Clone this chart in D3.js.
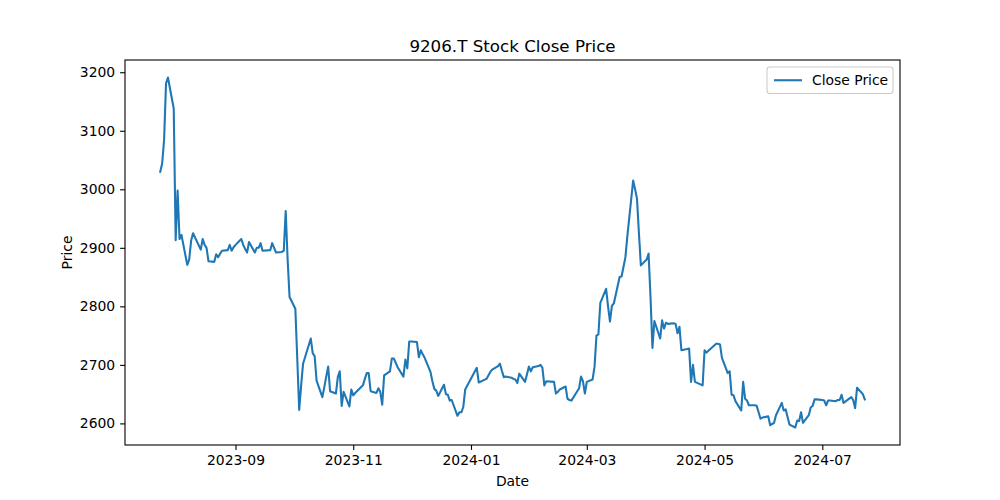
<!DOCTYPE html>
<html>
<head>
<meta charset="utf-8">
<script src="https://cdn.jsdelivr.net/npm/d3@7"></script>
<style>
  html, body { margin: 0; padding: 0; background: #fff; }
  svg { display: block; }
  text { font-family: "DejaVu Sans", sans-serif; fill: #000; }
</style>
</head>
<body>
<svg id="chart" width="1000" height="500"></svg>
<script>
// ---- data ----
const dates = [
"2023-07-24","2023-07-25","2023-07-26","2023-07-27","2023-07-28","2023-07-31",
"2023-08-01","2023-08-02","2023-08-03","2023-08-04","2023-08-07","2023-08-08","2023-08-09","2023-08-10",
"2023-08-14","2023-08-15","2023-08-16","2023-08-17","2023-08-18","2023-08-21","2023-08-22","2023-08-23",
"2023-08-24","2023-08-25","2023-08-28","2023-08-29","2023-08-30","2023-08-31",
"2023-09-01","2023-09-04","2023-09-05","2023-09-06","2023-09-07","2023-09-08","2023-09-11","2023-09-12",
"2023-09-13","2023-09-14","2023-09-15","2023-09-19","2023-09-20","2023-09-21","2023-09-22","2023-09-25",
"2023-09-26","2023-09-27","2023-09-28","2023-09-29",
"2023-10-02","2023-10-03","2023-10-04","2023-10-05","2023-10-06","2023-10-10","2023-10-11","2023-10-12",
"2023-10-13","2023-10-16","2023-10-17","2023-10-18","2023-10-19","2023-10-20","2023-10-23","2023-10-24",
"2023-10-25","2023-10-26","2023-10-27","2023-10-30","2023-10-31",
"2023-11-01","2023-11-02","2023-11-06","2023-11-07","2023-11-08","2023-11-09","2023-11-10","2023-11-13",
"2023-11-14","2023-11-15","2023-11-16","2023-11-17","2023-11-20","2023-11-21","2023-11-22","2023-11-24",
"2023-11-27","2023-11-28","2023-11-29","2023-11-30",
"2023-12-01","2023-12-04","2023-12-05","2023-12-06","2023-12-07","2023-12-08","2023-12-11","2023-12-12",
"2023-12-13","2023-12-14","2023-12-15","2023-12-18","2023-12-19","2023-12-20","2023-12-21","2023-12-22",
"2023-12-25","2023-12-26","2023-12-27","2023-12-28","2023-12-29",
"2024-01-04","2024-01-05","2024-01-09","2024-01-10","2024-01-11","2024-01-12","2024-01-15","2024-01-16",
"2024-01-17","2024-01-18","2024-01-19","2024-01-22","2024-01-23","2024-01-24","2024-01-25","2024-01-26",
"2024-01-29","2024-01-30","2024-01-31",
"2024-02-01","2024-02-02","2024-02-05","2024-02-06","2024-02-07","2024-02-08","2024-02-09","2024-02-13",
"2024-02-14","2024-02-15","2024-02-16","2024-02-19","2024-02-20","2024-02-21","2024-02-22","2024-02-26",
"2024-02-27","2024-02-28","2024-02-29",
"2024-03-01","2024-03-04","2024-03-05","2024-03-06","2024-03-07","2024-03-08","2024-03-11","2024-03-12",
"2024-03-13","2024-03-14","2024-03-15","2024-03-18","2024-03-19","2024-03-21","2024-03-22","2024-03-25",
"2024-03-26","2024-03-27","2024-03-28","2024-03-29",
"2024-04-01","2024-04-02","2024-04-03","2024-04-04","2024-04-05","2024-04-08","2024-04-09","2024-04-10",
"2024-04-11","2024-04-12","2024-04-15","2024-04-16","2024-04-17","2024-04-18","2024-04-19","2024-04-22",
"2024-04-23","2024-04-24","2024-04-25","2024-04-26","2024-04-30",
"2024-05-01","2024-05-02","2024-05-07","2024-05-08","2024-05-09","2024-05-10","2024-05-13","2024-05-14",
"2024-05-15","2024-05-16","2024-05-17","2024-05-20","2024-05-21","2024-05-22","2024-05-23","2024-05-24",
"2024-05-27","2024-05-28","2024-05-29","2024-05-30","2024-05-31",
"2024-06-03","2024-06-04","2024-06-05","2024-06-06","2024-06-07","2024-06-10","2024-06-11","2024-06-12",
"2024-06-13","2024-06-14","2024-06-17","2024-06-18","2024-06-19","2024-06-20","2024-06-21","2024-06-24",
"2024-06-25","2024-06-26","2024-06-27","2024-06-28",
"2024-07-01","2024-07-02","2024-07-03","2024-07-04","2024-07-05","2024-07-08","2024-07-09","2024-07-10",
"2024-07-11","2024-07-12","2024-07-16","2024-07-17","2024-07-18","2024-07-19","2024-07-22","2024-07-23"
];
const closePrice = [
3030,3044,3084,3181,3191,3138,
2913,2998,2915,2922,2871,2880,2912,2925,
2897,2915,2905,2900,2877,2876,2889,2884,
2890,2895,2896,2905,2895,2901,
2905,2915,2905,2898,2892,2910,2892,2900,
2900,2908,2895,2896,2908,2900,2892,2893,
2895,2963,2880,2816,
2796,2710,2623,2665,2702,2745,2720,2715,
2673,2645,2662,2680,2697,2655,2651,2679,
2689,2630,2654,2629,2658,
2648,2652,2665,2676,2686,2686,2655,2652,
2660,2654,2632,2682,2689,2711,2711,2696,
2680,2709,2694,2740,
2740,2739,2713,2725,2718,2712,2688,2672,
2659,2656,2647,2666,2650,2649,2639,2640,
2613,2619,2619,2628,2658,
2695,2670,2676,2682,2688,2692,2698,2702,
2690,2679,2680,2678,2676,2675,2669,2685,
2671,2684,2697,
2689,2696,2698,2700,2695,2665,2672,2671,
2651,2654,2658,2663,2642,2640,2639,2660,
2680,2672,2651,
2671,2675,2697,2750,2752,2806,2830,2800,
2774,2801,2805,2850,2851,2884,2920,3015,
3000,2984,2925,2870,
2880,2890,2816,2729,2775,2745,2776,2762,
2772,2770,2771,2770,2754,2765,2725,2727,
2728,2671,2700,2671,2665,
2725,2721,2736,2736,2735,2712,2686,2689,
2649,2648,2638,2622,2671,2642,2639,2631,
2631,2630,2619,2608,2610,
2612,2597,2599,2601,2614,2635,2622,2624,
2611,2598,2593,2605,2604,2619,2601,2614,
2627,2630,2641,2641,
2640,2639,2631,2639,2639,2638,2640,2640,
2649,2635,2645,2640,2626,2661,2650,2641
];
const xTickLabels = ["2023-09","2023-11","2024-01","2024-03","2024-05","2024-07"];
const yTickValues = [2600, 2700, 2800, 2900, 3000, 3100, 3200];
const chartTitle = "9206.T Stock Close Price";
const seriesName = "Close Price";

// ---- layout ----
const W = 1000, H = 500;
const m = { left: 125, right: 900, top: 60, bottom: 445 };
const color = "#1f77b4";

const parse = d3.timeParse("%Y-%m-%d");
const parseMonth = d3.timeParse("%Y-%m");
const data = dates.map((d, i) => ({ date: parse(d), value: closePrice[i] }));

const xExt = d3.extent(data, d => d.date);
const xSpan = xExt[1] - xExt[0];
const x = d3.scaleTime()
  .domain([new Date(+xExt[0] - xSpan * 0.05), new Date(+xExt[1] + xSpan * 0.05)])
  .range([m.left, m.right]);

const yExt = d3.extent(data, d => d.value);
const ySpan = yExt[1] - yExt[0];
const y = d3.scaleLinear()
  .domain([yExt[0] - ySpan * 0.05, yExt[1] + ySpan * 0.05])
  .range([m.bottom, m.top]);

const svg = d3.select("#chart");

// clip
svg.append("defs").append("clipPath").attr("id", "clip")
  .append("rect").attr("x", m.left).attr("y", m.top)
  .attr("width", m.right - m.left).attr("height", m.bottom - m.top);

// line
const line = d3.line().x(d => x(d.date)).y(d => y(d.value));
svg.append("path")
  .datum(data)
  .attr("clip-path", "url(#clip)")
  .attr("fill", "none")
  .attr("stroke", color)
  .attr("stroke-width", 2.08)
  .attr("stroke-linejoin", "round")
  .attr("stroke-linecap", "square")
  .attr("d", line);

// axes
const fontPx = 13.9;
const xAxis = d3.axisBottom(x)
  .tickValues(xTickLabels.map(parseMonth))
  .tickFormat(d3.timeFormat("%Y-%m"))
  .tickSizeInner(4.9).tickSizeOuter(0).tickPadding(4.9);
const gx = svg.append("g").attr("transform", `translate(0,${m.bottom})`).call(xAxis);
gx.select(".domain").remove();
gx.selectAll(".tick line").attr("stroke", "#000").attr("stroke-width", 1.1);
gx.selectAll(".tick text").attr("font-size", fontPx).attr("font-family", "DejaVu Sans").attr("fill", "#000");

const yAxis = d3.axisLeft(y)
  .tickValues(yTickValues)
  .tickFormat(d3.format("d"))
  .tickSizeInner(4.9).tickSizeOuter(0).tickPadding(4.9);
const gy = svg.append("g").attr("transform", `translate(${m.left},0)`).call(yAxis);
gy.select(".domain").remove();
gy.selectAll(".tick line").attr("stroke", "#000").attr("stroke-width", 1.1);
gy.selectAll(".tick text").attr("font-size", fontPx).attr("font-family", "DejaVu Sans").attr("fill", "#000");

// frame
svg.append("rect")
  .attr("x", m.left).attr("y", m.top)
  .attr("width", m.right - m.left).attr("height", m.bottom - m.top)
  .attr("fill", "none").attr("stroke", "#000").attr("stroke-width", 1.1);

// title & labels
svg.append("text")
  .attr("x", (m.left + m.right) / 2).attr("y", 51.5)
  .attr("text-anchor", "middle").attr("font-size", 16.7)
  .text(chartTitle);
svg.append("text")
  .attr("x", (m.left + m.right) / 2).attr("y", 486)
  .attr("text-anchor", "middle").attr("font-size", fontPx)
  .text("Date");
svg.append("text")
  .attr("transform", `translate(72,${(m.top + m.bottom) / 2}) rotate(-90)`)
  .attr("text-anchor", "middle").attr("font-size", fontPx)
  .text("Price");

// legend
const lg = svg.append("g");
const lgW = 126, lgH = 26.5;
const lgX = m.right - 7 - lgW, lgY = m.top + 7;
lg.append("rect")
  .attr("x", lgX).attr("y", lgY).attr("width", lgW).attr("height", lgH)
  .attr("rx", 2.8).attr("ry", 2.8)
  .attr("fill", "#fff").attr("fill-opacity", 0.8)
  .attr("stroke", "#cccccc").attr("stroke-width", 1.1);
lg.append("line")
  .attr("x1", lgX + 7).attr("x2", lgX + 35)
  .attr("y1", lgY + lgH / 2).attr("y2", lgY + lgH / 2)
  .attr("stroke", color).attr("stroke-width", 2.08);
lg.append("text")
  .attr("x", lgX + 45).attr("y", lgY + lgH / 2)
  .attr("dy", "0.36em").attr("font-size", fontPx)
  .text(seriesName);
</script>
</body>
</html>
